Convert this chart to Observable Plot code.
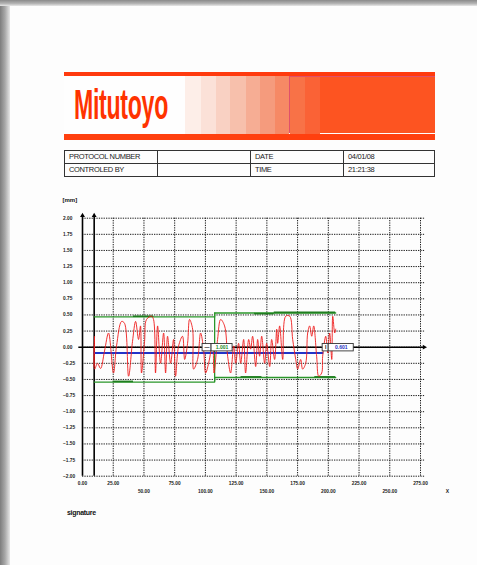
<!DOCTYPE html>
<html>
<head>
<meta charset="utf-8">
<script src="https://cdn.jsdelivr.net/npm/d3@7"></script>
<script src="https://cdn.jsdelivr.net/npm/@observablehq/plot@0.6"></script>
<style>
  html, body { margin: 0; padding: 0; }
  body { width: 477px; height: 565px; position: relative; overflow: hidden; background: #fdfdfd; font-family: "Liberation Sans", Arial, sans-serif; }
  .abs { position: absolute; }
  #leftband { left: 0; top: 0; width: 10px; height: 565px; background: linear-gradient(to right, #7d7d7d, #a8a8a8 50%, #e6e6e6); }
  #topband { left: 0; top: 0; width: 477px; height: 6px; background: linear-gradient(to bottom, #8a8a8a, #b5b5b5 60%, #e8e8e8); }
  #redtop { left: 64px; top: 72px; width: 371px; height: 3.5px; background: #ff3a0e; }
  #redbot { left: 64px; top: 133.5px; width: 371px; height: 6px; background: #ff400f; }
  #band { left: 64px; top: 75.5px; width: 371px; height: 58px; background: #fefefe; }
  .step { position: absolute; top: 0; height: 58px; }
  #solid { left: 225px; top: 0; width: 146px; height: 57px; border-left: 1px solid #e0506a; border-top: 1px solid #e0506a; background: #fd5421; position: absolute; box-sizing: border-box; }
  #logo { left: 74px; top: 76px; font-size: 42px; font-weight: bold; color: #ff3300; transform: scaleX(0.55); transform-origin: left top; letter-spacing: -0.5px; line-height: 58px; }
  table { position: absolute; left: 64px; top: 150px; width: 371px; border-collapse: collapse; font-size: 7.5px; color: #222; letter-spacing: -0.35px; }
  td { border: 1.3px solid #333; height: 12px; padding: 0 0 0 4px; line-height: 12px; }
  #unit { left: 62.5px; top: 197px; font-size: 6px; font-weight: bold; color: #111; }
  #sig { left: 67px; top: 509px; font-size: 7px; font-weight: bold; color: #111; letter-spacing: -0.3px; }
  #chart { left: 0; top: 195px; }
</style>
</head>
<body>
<div id="leftband" class="abs"></div>
<div id="topband" class="abs"></div>
<div id="redtop" class="abs"></div>
<div id="band" class="abs"></div>
<div id="redbot" class="abs"></div>
<div id="logo" class="abs">Mitutoyo</div>
<table>
  <tr><td style="width:88px">PROTOCOL NUMBER</td><td style="width:88px"></td><td style="width:88px">DATE</td><td>04/01/08</td></tr>
  <tr><td>CONTROLED BY</td><td></td><td>TIME</td><td>21:21:38</td></tr>
</table>
<div id="unit" class="abs">[mm]</div>
<div id="sig" class="abs">signature</div>
<div id="chart" class="abs"></div>
<script>
// ---- header gradient steps (colours of the banner, left to right) ----
const stepColors = ["#fdeee8", "#fbe1d8", "#f9d1c3", "#f7c0ac", "#f6ad94", "#f59b7d", "#f68965"];
const stepEdges = [121, 137, 152, 166, 182, 196, 211, 225];
const band = document.getElementById("band");
stepColors.forEach((c, i) => {
  const d = document.createElement("div");
  d.className = "step";
  d.style.left = stepEdges[i] + "px";
  d.style.width = (stepEdges[i + 1] - stepEdges[i]) + "px";
  d.style.background = c;
  band.appendChild(d);
});
const solid = document.createElement("div");
solid.id = "solid";
band.appendChild(solid);
const innerSteps = [["#f87247", 0, 15], ["#fa6236", 15, 30]];
innerSteps.forEach(([c, a, b]) => {
  const d = document.createElement("div");
  d.style.cssText = `position:absolute;top:0;height:57px;left:${a}px;width:${b - a}px;background:${c}`;
  solid.appendChild(d);
});

// ---- chart data ----
const yTicks = [2, 1.75, 1.5, 1.25, 1, 0.75, 0.5, 0.25, 0, -0.25, -0.5, -0.75, -1, -1.25, -1.5, -1.75, -2];
const xGridTicks = [25, 50, 75, 100, 125, 150, 175, 200, 225, 250, 275];
const xUpperTicks = [0, 25, 75, 125, 175, 225, 275];
const xLowerTicks = [50, 100, 150, 200, 250];

const sigX = [9.5, 9.8, 9.9, 12.2, 14.7, 17.9, 21.2, 25.2, 27.7, 31.8, 34.2, 37.5, 40.7, 43.2, 45.6, 47.2, 48.0, 50.5, 52.1, 56.2,
  57.8, 59.4, 61.1, 63.5, 66.0, 67.6, 69.2, 71.7, 74.1, 75.7, 78.2, 81.4, 83.1, 85.5, 87.1, 89.6, 90.4, 93.6, 96.1, 98.5, 100.2, 102.6, 105.9, 107.0,
  109.9, 112.4, 115.6, 118.1, 120.5, 123.0, 124.6, 127.0, 128.7, 131.1, 132.7, 135.2, 136.8, 138.4, 140.9, 142.5, 144.1, 145.8, 148.2, 149.8, 152.3, 153.9, 156.3, 158.0,
  158.8, 160.4, 162.9, 165.3, 168.6, 171.0, 173.5, 175.1, 177.5, 179.1, 181.6, 183.2, 184.8, 186.5, 188.1, 190.5, 192.2, 194.6, 195.4, 197.9, 199.5, 201.1, 202.8, 203.6, 205.2, 206.0];
const sigY = [-0.30, 0.17, -0.34, -0.25, -0.33, -0.06, 0.22, -0.40, 0.02, 0.40, 0.37, -0.45, 0.09, 0.40, 0.12, 0.33, -0.40, 0.09, 0.43, 0.48,
  0.43, -0.40, 0.33, -0.25, 0.22, -0.40, 0.17, -0.25, 0.12, -0.45, 0.02, 0.17, -0.19, 0.06, 0.43, 0.28, -0.34, -0.19, 0.22, -0.03, -0.40, -0.25, 0.06, -0.40,
  0.12, 0.43, 0.33, -0.14, -0.40, 0.02, -0.25, 0.06, -0.25, 0.12, -0.40, 0.12, -0.03, 0.17, -0.30, 0.12, -0.14, 0.17, -0.25, 0.06, -0.30, 0.12, -0.19, 0.28,
  0.06, 0.33, -0.19, 0.48, 0.48, 0.12, -0.19, -0.34, -0.19, -0.34, -0.25, 0.22, 0.33, 0.17, 0.33, -0.14, -0.45, -0.40, -0.14, 0.17, -0.09, 0.22, -0.19, 0.48, 0.22, 0.28];
const signal = sigX.map((x, i) => ({x, y: sigY[i]}));

// envelope (max / min step lines) for the two evaluation sections
const envX = [9.5, 107.5, 107.5, 206];
const envUpper = [0.47, 0.47, 0.53, 0.53];
const envLower = [-0.54, -0.54, -0.47, -0.47];
const splitX = 107.5;
const meanValue = -0.09;
const meanX = [9.5, 195.4];
const envPoints = [
  ...envX.map((x, i) => ({x, y: envUpper[i], k: "max"})),
  ...envX.map((x, i) => ({x, y: envLower[i], k: "min"}))
];
// darker marks along the envelope (where the extreme values were found)
const peakStart = [41.5, 25, 140, 156, 129, 189];
const peakEnd = [58, 41.5, 156, 206, 146, 206];
const peakValue = [0.48, -0.53, 0.52, 0.54, -0.46, -0.46];
const peakMarks = peakStart.map((a, i) => ({a, b: peakEnd[i], y: peakValue[i]}));

// value labels
const labels = [
  {x1: 97.7, x2: 105, text: "—", color: "#111"},
  {x1: 105, x2: 122.1, text: "1.001", color: "#1d8a1d"},
  {x1: 195.4, x2: 200.3, text: "I", color: "#111"},
  {x1: 200.3, x2: 220.7, text: "0.601", color: "#1f2fc0"}
];
const labelTop = 0.05, labelBottom = -0.065;

const fmt = d3.format(".2f");
const grid = {stroke: "#1a1a1a", strokeWidth: 1, strokeDasharray: "1.3,1.1"};

const chart = Plot.plot({
  width: 477, height: 310,
  marginLeft: 82, marginRight: 57, marginTop: 22.7, marginBottom: 29.3,
  x: {domain: [0, 275], axis: null},
  y: {domain: [-2, 2], axis: null},
  style: {background: "transparent", fontFamily: "Liberation Sans, Arial, sans-serif"},
  marks: [
    Plot.ruleY(yTicks, {x1: 0, x2: 279, ...grid}),
    Plot.ruleX(xGridTicks, {y1: -2, y2: 2, ...grid}),
    // axes
    Plot.ruleX([0, envX[0]], {y1: -2, y2: 2.04, stroke: "#000", strokeWidth: 1.6}),
    Plot.dot([0, envX[0]], {x: d => d, y: 2.04, symbol: "triangle", r: 1.8, fill: "#000", stroke: "none"}),
    Plot.ruleY([0], {x1: -3, x2: 278, stroke: "#000", strokeWidth: 1.6}),
    Plot.dot([0], {x: 278, y: 0, symbol: "triangle", rotate: 90, r: 1.8, fill: "#000", stroke: "none"}),
    // envelope
    Plot.line(envPoints, {x: "x", y: "y", z: "k", stroke: "#2a962a", strokeWidth: 1.3}),
    Plot.ruleX([splitX], {y1: envLower[0], y2: envUpper[2], stroke: "#2a962a", strokeWidth: 1.3}),
    Plot.ruleY(peakMarks, {x1: "a", x2: "b", y: "y", stroke: "#1f7d1f", strokeWidth: 1.6}),
    // mean line
    Plot.line(meanX, {x: d => d, y: meanValue, stroke: "#2233c8", strokeWidth: 1.8}),
    // signal
    Plot.line(signal, {x: "x", y: "y", stroke: "#ee1c1c", strokeWidth: 0.9, curve: "catmull-rom"}),
    // label boxes
    Plot.rect(labels, {x1: "x1", x2: "x2", y1: labelBottom, y2: labelTop, fill: "#fff", stroke: "#333", strokeWidth: 0.9}),
    Plot.text(labels, {x: d => (d.x1 + d.x2) / 2, y: (labelTop + labelBottom) / 2, text: "text", fill: "color", fontSize: 5, fontWeight: "bold"}),
    // tick labels
    Plot.text(yTicks, {x: 0, y: d => d, text: d => fmt(d), textAnchor: "start", dx: -19.5, fontSize: 4.8, fontWeight: "bold", fill: "#222"}),
    Plot.text(xUpperTicks, {x: d => d, y: -2, text: d => fmt(d), dy: 7, fontSize: 4.8, fontWeight: "bold", fill: "#222"}),
    Plot.text(xLowerTicks, {x: d => d, y: -2, text: d => fmt(d), dy: 15, fontSize: 4.8, fontWeight: "bold", fill: "#222"}),
    Plot.text(["X"], {x: 297, y: -2, text: d => d, dy: 15, fontSize: 5, fontWeight: "bold", fill: "#222"})
  ]
});
document.getElementById("chart").appendChild(chart);
</script>
</body>
</html>
